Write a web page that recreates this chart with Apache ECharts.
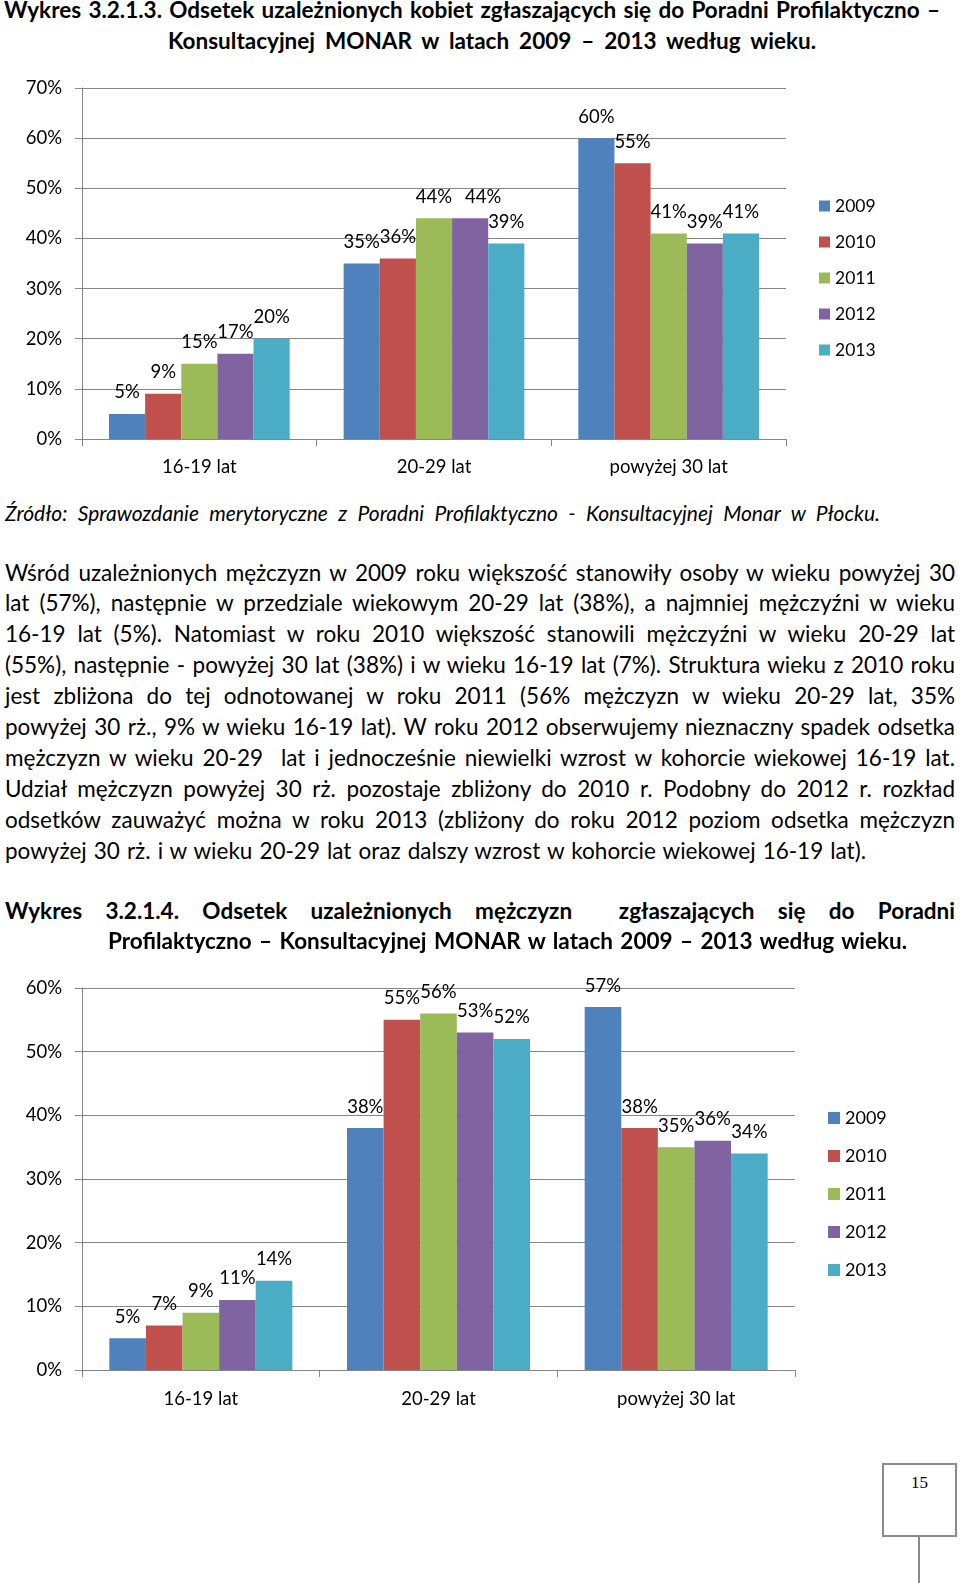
<!DOCTYPE html>
<html>
<head>
<meta charset="utf-8">
<script src="https://cdn.jsdelivr.net/npm/echarts@6/dist/echarts.min.js"></script>
<style>
html,body{margin:0;padding:0;background:#fff;}
#page{position:relative;width:960px;height:1583px;overflow:hidden;background:#fff;}
.ln{position:absolute;white-space:pre;color:#000;}
.tb{font:bold 22.5px Lato, "Open Sans", sans-serif;}
.src{font:italic 21px Lato, "Open Sans", sans-serif;}
.bd{font:22.5px Lato, "Open Sans", sans-serif;}
#c1{position:absolute;left:0;top:60px;width:960px;height:430px;}
#c2{position:absolute;left:0;top:950px;width:960px;height:460px;}
#pbox{position:absolute;left:882px;top:1463px;width:71px;height:70px;border:2px solid #8a8a8a;text-align:center;font:17px "Liberation Serif", serif;line-height:20px;box-sizing:content-box;}
#pline{position:absolute;left:918px;top:1537px;width:2px;height:46px;background:#8a8a8a;}
</style>
</head>
<body>
<div id="page">
  <div id="c1"></div>
  <div id="c2"></div>
  <div id="pbox"><div style="margin-top:8px">15</div></div>
  <div id="pline"></div>
</div>
<script>
// ---- data ----
const ageGroups = ['16-19 lat', '20-29 lat', 'powyżej 30 lat'];
const years = ['2009', '2010', '2011', '2012', '2013'];
const colors = ['#4F81BD', '#C0504D', '#9BBB59', '#8064A2', '#4BACC6'];
// Women (chart 3.2.1.3): values per year across age groups
const women2009 = [5, 35, 60];
const women2010 = [9, 36, 55];
const women2011 = [15, 44, 41];
const women2012 = [17, 44, 39];
const women2013 = [20, 39, 41];
// Men (chart 3.2.1.4)
const men2009 = [5, 38, 57];
const men2010 = [7, 55, 38];
const men2011 = [9, 56, 35];
const men2012 = [11, 53, 36];
const men2013 = [14, 52, 34];

// ---- text ----
const title1 = ['Wykres 3.2.1.3. Odsetek uzależnionych kobiet zgłaszających się do Poradni Profilaktyczno –',
                'Konsultacyjnej MONAR w latach 2009 – 2013 według wieku.'];
const sourceText = 'Źródło: Sprawozdanie merytoryczne z Poradni Profilaktyczno - Konsultacyjnej Monar w Płocku.';
const bodyLines = [
 'Wśród uzależnionych mężczyzn w 2009 roku większość stanowiły osoby w wieku powyżej 30',
 'lat (57%), następnie w przedziale wiekowym 20-29 lat (38%), a najmniej mężczyźni w wieku',
 '16-19 lat (5%). Natomiast w roku 2010 większość stanowili mężczyźni w wieku 20-29 lat',
 '(55%), następnie - powyżej 30 lat (38%) i w wieku 16-19 lat (7%). Struktura wieku z 2010 roku',
 'jest zbliżona do tej odnotowanej w roku 2011 (56% mężczyzn w wieku 20-29 lat, 35%',
 'powyżej 30 rż., 9% w wieku 16-19 lat). W roku 2012 obserwujemy nieznaczny spadek odsetka',
 'mężczyzn w wieku 20-29  lat i jednocześnie niewielki wzrost w kohorcie wiekowej 16-19 lat.',
 'Udział mężczyzn powyżej 30 rż. pozostaje zbliżony do 2010 r. Podobny do 2012 r. rozkład',
 'odsetków zauważyć można w roku 2013 (zbliżony do roku 2012 poziom odsetka mężczyzn',
 'powyżej 30 rż. i w wieku 20-29 lat oraz dalszy wzrost w kohorcie wiekowej 16-19 lat).'
];
const title2 = ['Wykres 3.2.1.4. Odsetek uzależnionych mężczyzn  zgłaszających się do Poradni',
                'Profilaktyczno – Konsultacyjnej MONAR w latach 2009 – 2013 według wieku.'];

const page = document.getElementById('page');
function placeLine(text, cls, x0, x1, base){
  const d = document.createElement('div');
  d.className = 'ln ' + cls;
  d.style.left = x0 + 'px';
  d.style.top = '0px';
  const s = document.createElement('span');
  s.textContent = text;
  const m = document.createElement('span');
  m.style.display = 'inline-block'; m.style.width = '0'; m.style.height = '0'; m.style.verticalAlign = 'baseline';
  d.appendChild(s); d.appendChild(m);
  page.appendChild(d);
  const w = s.getBoundingClientRect().width;
  const n = (text.match(/ /g) || []).length;
  if (n > 0 && x1) s.style.wordSpacing = ((x1 - x0 - w) / n) + 'px';
  const bo = m.getBoundingClientRect().top - d.getBoundingClientRect().top;
  d.style.top = (base - bo) + 'px';
}
placeLine(title1[0], 'tb', 4, 940, 18);
placeLine(title1[1], 'tb', 168, 816, 48.5);
placeLine(sourceText, 'src', 5, 880, 521);
const bodyBase = 580.5, bodyStep = 30.95;
bodyLines.forEach((t, i) => {
  const last = i === bodyLines.length - 1;
  placeLine(t, 'bd', 5, last ? 866 : 955, bodyBase + i * bodyStep);
});
placeLine(title2[0], 'tb', 5, 955, 918.5);
placeLine(title2[1], 'tb', 108, 907, 949);

// ---- charts ----
const gridColor = '#868686';
function buildOption(seriesData, yMax, grid, legend, xMargin, fs, labelShift) {
  return {
    animation: false,
    textStyle: { fontFamily: 'Lato, "Open Sans", sans-serif' },
    grid: grid,
    legend: Object.assign({
      orient: 'vertical', icon: 'rect', data: years,
      textStyle: { fontSize: legend.fs, lineHeight: legend.fs, color: '#000' }
    }, legend.pos),
    xAxis: {
      type: 'category', data: ageGroups,
      axisLine: { show: true, lineStyle: { color: gridColor, width: 1 } },
      axisTick: { show: true, length: 7, alignWithLabel: false, lineStyle: { color: gridColor } },
      axisLabel: { fontSize: fs, color: '#000', margin: xMargin }
    },
    yAxis: {
      type: 'value', min: 0, max: yMax, interval: 10,
      axisLine: { show: true, lineStyle: { color: gridColor, width: 1 } },
      axisTick: { show: true, length: 7, lineStyle: { color: gridColor } },
      splitLine: { show: true, lineStyle: { color: gridColor, width: 1 } },
      axisLabel: { formatter: '{value}%', fontSize: fs, color: '#000', margin: 20 }
    },
    series: seriesData.map((d, i) => ({
      type: 'bar', name: years[i],
      data: d.map((v, j) => {
        const key = i + ':' + j;
        return labelShift && labelShift[key]
          ? { value: v, label: { offset: labelShift[key] } }
          : v;
      }),
      barGap: '0%', barCategoryGap: '23%',
      itemStyle: { color: colors[i] },
      label: { show: true, position: 'top', distance: 12, formatter: '{c}%', fontSize: fs, color: '#000' }
    }))
  };
}
const c1 = echarts.init(document.getElementById('c1'), null, { renderer: 'canvas' });
c1.setOption(buildOption(
  [women2009, women2010, women2011, women2012, women2013], 70,
  { left: 82, top: 28, width: 704, height: 351 },
  { fs: 17.5, pos: { left: 814, top: 132, itemWidth: 11, itemHeight: 11, itemGap: 18 } },
  19, 18.5, { '3:1': [13, 0] }));
const c2 = echarts.init(document.getElementById('c2'), null, { renderer: 'canvas' });
c2.setOption(buildOption(
  [men2009, men2010, men2011, men2012, men2013], 60,
  { left: 82, top: 38, width: 713, height: 382 },
  { fs: 18, pos: { left: 823, top: 154, itemWidth: 12, itemHeight: 12, itemGap: 20 } },
  20, 18.5, null));
</script>
</body>
</html>
